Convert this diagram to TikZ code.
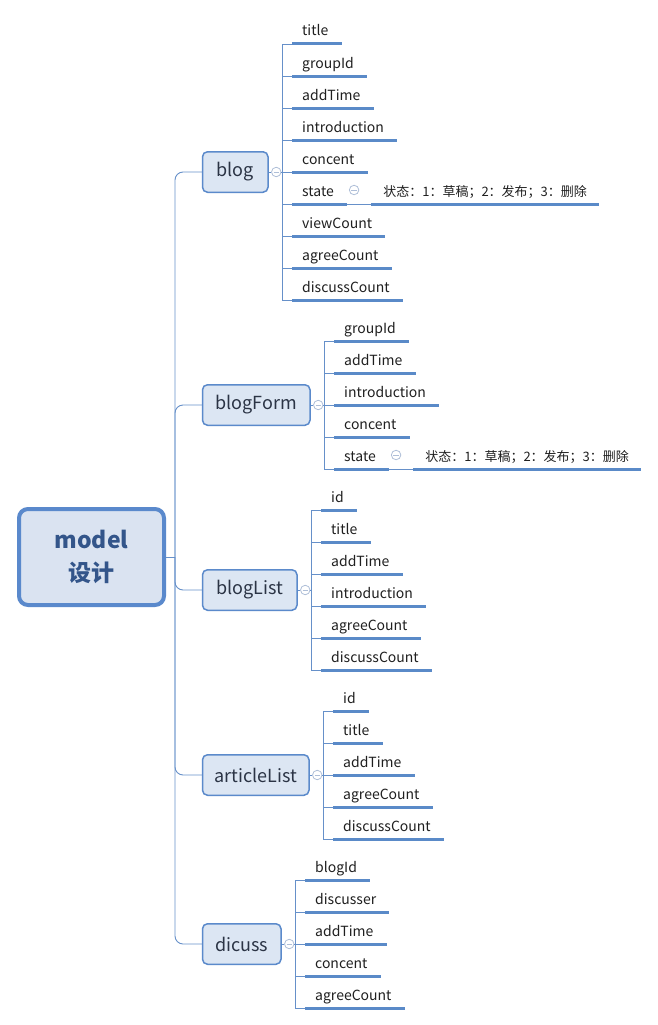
\documentclass[tikz,border=0pt]{standalone}
\usepackage{fontspec}
\setmainfont{Noto Sans CJK SC}
\definecolor{lineblue}{HTML}{6690C9}
\definecolor{ulblue}{HTML}{5A8AC8}
\definecolor{boxfill}{HTML}{DCE6F3}
\definecolor{boxdraw}{HTML}{5B8ACB}
\definecolor{rootfill}{HTML}{DAE3F1}
\definecolor{rootdraw}{HTML}{5A89CC}
\definecolor{roottext}{HTML}{33558A}
\definecolor{childtext}{HTML}{2B3445}
\definecolor{mincol}{HTML}{AFBFD8}
\tikzset{
 conn/.style={draw=lineblue, line width=0.9pt},
 uline/.style={draw=ulblue, line width=3pt},
 leaf/.style={anchor=base west, inner xsep=10pt, inner ysep=0pt, font=\fontsize{14}{16}\selectfont, text=black!88},
 subleaf/.style={leaf, inner xsep=12pt, font=\fontsize{13}{16}\selectfont},
 childbox/.style={draw=boxdraw, fill=boxfill, line width=1.5pt, rounded corners=5pt, minimum height=40.5pt, anchor=west, font=\fontsize{18}{22}\selectfont, text=childtext, inner sep=0pt},
 rootbox/.style={draw=rootdraw, fill=rootfill, line width=4pt, rounded corners=9pt, minimum width=145pt, minimum height=96pt, align=center, font=\bfseries\fontsize{23}{33}\selectfont, text=roottext, inner sep=0pt},
 fold/.style={circle, draw=mincol, line width=0.8pt, minimum size=9.5pt, inner sep=0pt, fill=white,
   path picture={\draw[mincol, line width=0.8pt] ([xshift=-2.6pt]path picture bounding box.center) -- ([xshift=2.6pt]path picture bounding box.center);}},
}
\begin{document}
\begin{tikzpicture}[x=1pt,y=-1pt]
\useasboundingbox (0,0) rectangle (658,1025);
% root
\node[rootbox] (root) at (91.5,557) {model\\设计};
\coordinate (trunk) at (175,557);
% children
\node[childbox, minimum width=65.5pt]  (blog)   at (201.75,172) {blog};
\node[childbox, minimum width=107.5pt] (form)   at (201.75,405) {blogForm};
\node[childbox, minimum width=94.5pt]  (list)   at (201.75,590) {blogList};
\node[childbox, minimum width=106.5pt] (alist)  at (201.75,775) {articleList};
\node[childbox, minimum width=78.5pt]  (dicuss) at (201.75,944) {dicuss};
\draw[conn] (root.east) -- (trunk);
\foreach \c in {blog,form,list,alist,dicuss}{
  \draw[conn, rounded corners=8pt] (trunk) |- (\c.west);
}
% fold circles and bracket points
\foreach \c in {blog,form,list,alist,dicuss}{
  \node[fold] (f\c) at ([xshift=7.5pt]\c.east) {};
  \coordinate (x\c) at ([xshift=14pt]\c.east);
  \draw[conn] (\c.east) -- (f\c.west);
  \draw[conn] (f\c.east) -- (x\c);
}
% leaves: blog
\foreach \t [count=\i] in {title,groupId,addTime,introduction,concent,state,viewCount,agreeCount,discussCount}{
  \node[leaf] (b\i) at (292,{4+32*\i}) {\t};
  \draw[uline] ([yshift=-8pt]b\i.base west) -- ([yshift=-8pt,xshift=3pt]b\i.base east);
  \draw[conn] (xblog) |- ([yshift=-8pt]b\i.base west);
}
% leaves: blogForm
\foreach \t [count=\i] in {groupId,addTime,introduction,concent,state}{
  \node[leaf] (g\i) at (334,{301+32*\i}) {\t};
  \draw[uline] ([yshift=-8pt]g\i.base west) -- ([yshift=-8pt,xshift=3pt]g\i.base east);
  \draw[conn] (xform) |- ([yshift=-8pt]g\i.base west);
}
% leaves: blogList
\foreach \t [count=\i] in {id,title,addTime,introduction,agreeCount,discussCount}{
  \node[leaf] (l\i) at (321,{470+32*\i}) {\t};
  \draw[uline] ([yshift=-8pt]l\i.base west) -- ([yshift=-8pt,xshift=3pt]l\i.base east);
  \draw[conn] (xlist) |- ([yshift=-8pt]l\i.base west);
}
% leaves: articleList
\foreach \t [count=\i] in {id,title,addTime,agreeCount,discussCount}{
  \node[leaf] (a\i) at (333,{671+32*\i}) {\t};
  \draw[uline] ([yshift=-8pt]a\i.base west) -- ([yshift=-8pt,xshift=3pt]a\i.base east);
  \draw[conn] (xalist) |- ([yshift=-8pt]a\i.base west);
}
% leaves: dicuss
\foreach \t [count=\i] in {blogId,discusser,addTime,concent,agreeCount}{
  \node[leaf] (d\i) at (305,{840+32*\i}) {\t};
  \draw[uline] ([yshift=-8pt]d\i.base west) -- ([yshift=-8pt,xshift=3pt]d\i.base east);
  \draw[conn] (xdicuss) |- ([yshift=-8pt]d\i.base west);
}
% state sub-leaves
\foreach \p in {b6,g5}{
  \node[subleaf] (s\p) at ([xshift=27pt]\p.base east) {状态：1：草稿；2：发布；3：删除};
  \draw[uline] ([yshift=-8pt]s\p.base west) -- ([yshift=-8pt]s\p.base east);
  \draw[conn] ([yshift=-8pt,xshift=3pt]\p.base east) -- ([yshift=-8pt]s\p.base west);
  \node[fold] (f\p) at ([xshift=10pt,yshift=6pt]\p.base east) {};
}
\end{tikzpicture}
\end{document}
